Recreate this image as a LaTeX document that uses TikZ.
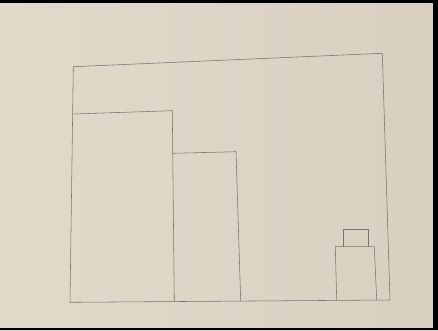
\documentclass[tikz,border=0pt]{standalone}
\begin{document}
\begin{tikzpicture}[x=1pt,y=-1pt,
  pencil/.style={draw=black!55, line width=0.55pt, line join=miter}]
\definecolor{paperlight}{RGB}{225,218,203}
\definecolor{paperdark}{RGB}{216,207,193}
\useasboundingbox (0,0) rectangle (438,330);
% paper
\shade[left color=paperlight, right color=paperdark] (0,0) rectangle (438,330);
% dark edges of the photo
\fill[black] (0,0) rectangle (438,3);
\fill[black] (433,0) rectangle (438,330);
\fill[black] (0,328) rectangle (438,330);
% outer frame
\draw[pencil] (73.3,66.7) -- (382.3,53.3) -- (390,300) -- (70,302.3) -- cycle;
% tall block
\draw[pencil] (73.3,114) -- (172.3,110.7) -- (174.3,301.7);
% middle block
\draw[pencil] (173.3,153.3) -- (236,151.7) -- (240.7,301);
% small object: base
\draw[pencil] (336.7,300) -- (335.3,246.7) -- (374.3,246.7) -- (376.7,300);
% small object: top
\draw[pencil] (343.3,246.7) -- (343.3,229.3) -- (368,229.3) -- (368,246.7);
\end{tikzpicture}
\end{document}
